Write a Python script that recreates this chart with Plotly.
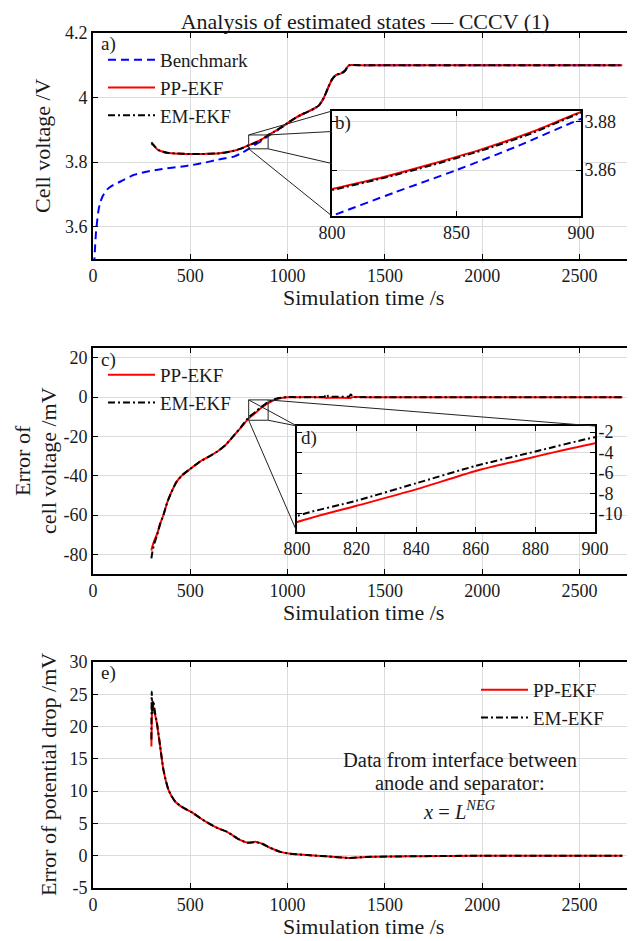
import plotly.graph_objects as go

# The page body keeps the browser's default 8 px margin, so the figure is drawn 8 px
# right/down of the window corner; the figure is sized and laid out to compensate.
OFF = 8
W, H = 635 - OFF, 941 - OFF

# ---------------- data ----------------
# a) cell voltage
t_bench = [0, 6, 10, 15, 20, 28, 36, 50, 70, 95, 122, 160, 208, 250, 294, 340, 380, 450, 509, 570,
           638, 680, 724, 760, 800, 825, 850, 875, 900, 950, 1000, 1067, 1100, 1136, 1160, 1185,
           1210, 1230, 1250, 1275, 1295, 1305, 1315, 1400, 2000, 2720]
v_bench = [3.40, 3.48, 3.53, 3.58, 3.61, 3.65, 3.673, 3.695, 3.714, 3.726, 3.734, 3.746, 3.760, 3.767,
           3.773, 3.777, 3.781, 3.786, 3.791, 3.798, 3.807, 3.812, 3.817, 3.827, 3.8413, 3.8508, 3.860,
           3.870, 3.881, 3.900, 3.921, 3.946, 3.955, 3.966, 3.975, 3.998, 4.033, 4.058, 4.070, 4.075,
           4.083, 4.093, 4.100, 4.100, 4.100, 4.100]

t_est = [300, 310, 320, 337, 360, 380, 420, 460, 509, 560, 600, 638, 680, 724, 760, 800, 820, 840, 860,
         880, 900, 930, 960, 1000, 1030, 1067, 1100, 1136, 1160, 1185, 1210, 1230, 1250, 1275, 1295,
         1305, 1315, 1400, 2000, 2720]
v_pp = [3.857, 3.852, 3.846, 3.837, 3.832, 3.829, 3.827, 3.826, 3.825, 3.825, 3.826, 3.827, 3.830, 3.835,
        3.842, 3.8522, 3.8570, 3.8625, 3.8685, 3.8755, 3.8838, 3.894, 3.905, 3.921, 3.933, 3.946, 3.955,
        3.966, 3.975, 3.998, 4.033, 4.058, 4.070, 4.075, 4.083, 4.093, 4.100, 4.100, 4.100, 4.100]
v_em = [3.861, 3.854, 3.847, 3.837, 3.832, 3.829, 3.827, 3.826, 3.825, 3.825, 3.826, 3.827, 3.830, 3.835,
        3.842, 3.8518, 3.8566, 3.8620, 3.8680, 3.8750, 3.8835, 3.894, 3.905, 3.921, 3.933, 3.946, 3.955,
        3.966, 3.975, 3.998, 4.033, 4.058, 4.070, 4.075, 4.083, 4.093, 4.100, 4.100, 4.100, 4.100]

# c) error of cell voltage (mV)
t_err = [300, 305, 315, 330, 345, 362, 380, 400, 430, 461, 500, 550, 600, 637, 680, 720, 760, 800, 820,
         840, 860, 880, 900, 925, 950, 975, 1000, 1050, 1150, 1190, 1200, 1210, 1260, 1315, 1325, 1335,
         1400, 2000, 2720]
e_pp = [-78, -76, -73, -69.5, -64.5, -60, -54, -49, -43, -39.5, -36.5, -32.8, -30, -27.8, -24.5, -20,
        -15.5, -10.8, -9.2, -7.6, -5.8, -4.4, -3.1, -1.7, -0.8, -0.3, -0.1, 0, 0, -0.2, -0.4, -0.3, -0.3,
        -0.4, -0.3, 0, 0, 0, 0]
e_em = [-82, -79, -74.5, -70, -64.5, -60, -54, -49, -43, -39.5, -36.5, -32.8, -30, -27.8, -24.5, -20,
        -15.3, -10.2, -8.7, -7.0, -5.3, -3.9, -2.5, -1.3, -0.6, -0.2, 0, 0, 0, 0.3, 1.5, 0.3, 0.2, 0.3,
        1.4, 0.2, 0, 0, 0]

# e) error of potential drop (mV)
t_pd = [300, 302, 305, 310, 318, 328, 345, 362, 388, 422, 465, 509, 552, 595, 638, 689, 741, 792, 835,
        869, 912, 963, 1015, 1100, 1200, 1312, 1400, 1600, 2000, 2720]
pd_pp = [16.9, 21, 24, 23, 22, 20.5, 16.9, 13.3, 10.2, 8.4, 7.4, 6.7, 5.8, 5.0, 4.3, 3.7, 2.7, 2.05,
         2.15, 1.85, 1.2, 0.6, 0.3, 0.1, -0.1, -0.35, -0.2, -0.1, 0, 0]
pd_em = [18, 25.4, 22, 24, 22.3, 20.7, 17, 13.3, 10.2, 8.4, 7.4, 6.7, 5.8, 5.0, 4.3, 3.7, 2.7, 2.0,
         2.1, 1.85, 1.2, 0.6, 0.3, 0.1, -0.1, -0.35, -0.2, -0.1, 0, 0]

# ticks
x_ticks = [0, 500, 1000, 1500, 2000, 2500]
x_ticktext = ["0", "500", "1000", "1500", "2000", "2500"]
a_yticks = [3.6, 3.8, 4.0, 4.2]
a_yticktext = ["3.6", "3.8", "4", "4.2"]
b_xticks = [800, 850, 900]
b_yticks = [3.86, 3.88]
b_yticktext = ["3.86", "3.88"]
c_yticks = [-80, -60, -40, -20, 0, 20]
c_yticktext = ["-80", "-60", "-40", "-20", "0", "20"]
d_xticks = [800, 820, 840, 860, 880, 900]
d_yticks = [-10, -8, -6, -4, -2]
d_yticktext = ["-10", "-8", "-6", "-4", "-2"]
e_yticks = [-5, 0, 5, 10, 15, 20, 25, 30]
e_yticktext = ["-5", "0", "5", "10", "15", "20", "25", "30"]

# ranges
X_RANGE = [0, 2780]
A_RANGE = [3.5, 4.2]
B_XRANGE = [800, 900]
B_YRANGE = [3.8412, 3.8842]
C_RANGE = [-90, 25]
D_XRANGE = [800, 900]
D_YRANGE = [-11.76, -1.41]
E_RANGE = [-5, 30]

# ---------------- layout geometry (window pixels -> paper) ----------------
def px(p):
    return (p - OFF) / W


def py(p):
    return 1 - (p - OFF) / H


XDOM = [px(93), px(634)]
A_DOM = [py(259), py(33)]
C_DOM = [py(574), py(348)]
E_DOM = [py(888), py(662)]
B_XDOM = [px(332), px(581)]
B_YDOM = [py(216), py(111)]
D_XDOM = [px(297), px(595)]
D_YDOM = [py(532), py(426)]

FONT = "Liberation Serif"
TXT = "#1a1a1a"
RED = "#ff0000"
BLUE = "#0000ff"
BLACK = "#000000"
GRID = "#dcdcdc"

fig = go.Figure()

LW = 2
SM = 0.6
bench_line = dict(color=BLUE, width=LW, dash="8px,5px", shape="spline", smoothing=SM)
pp_line = dict(color=RED, width=LW, shape="spline", smoothing=SM)
em_line = dict(color=BLACK, width=LW, dash="7px,3px,2px,3px", shape="spline", smoothing=SM)

# a) main
fig.add_trace(go.Scatter(x=t_bench, y=v_bench, mode="lines", line=bench_line, name="Benchmark",
                         xaxis="x", yaxis="y", legend="legend"))
fig.add_trace(go.Scatter(x=t_est, y=v_pp, mode="lines", line=pp_line, name="PP-EKF",
                         xaxis="x", yaxis="y", legend="legend"))
fig.add_trace(go.Scatter(x=t_est, y=v_em, mode="lines", line=em_line, name="EM-EKF",
                         xaxis="x", yaxis="y", legend="legend"))
# b) inset
fig.add_trace(go.Scatter(x=t_bench, y=v_bench, mode="lines", line=bench_line, showlegend=False,
                         xaxis="x2", yaxis="y2"))
fig.add_trace(go.Scatter(x=t_est, y=v_pp, mode="lines", line=pp_line, showlegend=False,
                         xaxis="x2", yaxis="y2"))
fig.add_trace(go.Scatter(x=t_est, y=v_em, mode="lines", line=em_line, showlegend=False,
                         xaxis="x2", yaxis="y2"))
# c) main
fig.add_trace(go.Scatter(x=t_err, y=e_pp, mode="lines", line=pp_line, name="PP-EKF",
                         xaxis="x3", yaxis="y3", legend="legend2"))
fig.add_trace(go.Scatter(x=t_err, y=e_em, mode="lines", line=em_line, name="EM-EKF",
                         xaxis="x3", yaxis="y3", legend="legend2"))
# d) inset
fig.add_trace(go.Scatter(x=t_err, y=e_pp, mode="lines", line=pp_line, showlegend=False,
                         xaxis="x4", yaxis="y4"))
fig.add_trace(go.Scatter(x=t_err, y=e_em, mode="lines", line=em_line, showlegend=False,
                         xaxis="x4", yaxis="y4"))
# e) main
fig.add_trace(go.Scatter(x=t_pd, y=pd_pp, mode="lines", line=pp_line, name="PP-EKF",
                         xaxis="x5", yaxis="y5", legend="legend3"))
fig.add_trace(go.Scatter(x=t_pd, y=pd_em, mode="lines", line=em_line, name="EM-EKF",
                         xaxis="x5", yaxis="y5", legend="legend3"))

tickfont = dict(family=FONT, size=18, color=TXT)


def ax(domain, rng, tickvals, ticktext=None, anchor=None, side=None, standoff=0):
    d = dict(domain=domain, range=rng, tickvals=tickvals, showline=True, linecolor=BLACK, linewidth=1.7,
             mirror="ticks", ticks="inside", ticklen=5, tickwidth=1, tickcolor=BLACK, showgrid=True,
             gridcolor=GRID, gridwidth=1, zeroline=False, tickfont=tickfont, automargin=False,
             anchor=anchor, ticklabelstandoff=standoff)
    if ticktext is not None:
        d["ticktext"] = ticktext
    if side is not None:
        d["side"] = side
    return d


fig.update_layout(
    width=W, height=H, margin=dict(l=0, r=0, t=0, b=0),
    paper_bgcolor="white", plot_bgcolor="white",
    xaxis=ax(XDOM, X_RANGE, x_ticks, x_ticktext, anchor="y"),
    yaxis=ax(A_DOM, A_RANGE, a_yticks, a_yticktext, anchor="x"),
    xaxis2=ax(B_XDOM, B_XRANGE, b_xticks, anchor="y2"),
    yaxis2=ax(B_YDOM, B_YRANGE, b_yticks, b_yticktext, anchor="x2", side="right", standoff=-2),
    xaxis3=ax(XDOM, X_RANGE, x_ticks, x_ticktext, anchor="y3"),
    yaxis3=ax(C_DOM, C_RANGE, c_yticks, c_yticktext, anchor="x3"),
    xaxis4=ax(D_XDOM, D_XRANGE, d_xticks, anchor="y4"),
    yaxis4=ax(D_YDOM, D_YRANGE, d_yticks, d_yticktext, anchor="x4", side="right", standoff=-2),
    xaxis5=ax(XDOM, X_RANGE, x_ticks, x_ticktext, anchor="y5"),
    yaxis5=ax(E_DOM, E_RANGE, e_yticks, e_yticktext, anchor="x5"),
    title=dict(text="Analysis of estimated states \u2014 CCCV (1)", x=px(365), y=py(21),
               xanchor="center", yanchor="middle", font=dict(family=FONT, size=22, color=TXT)),
    showlegend=True,
)

leg_common = dict(bgcolor="rgba(0,0,0,0)", borderwidth=0, font=dict(family=FONT, size=19, color=TXT),
                  xanchor="left", yanchor="top", tracegroupgap=0, itemwidth=47)
fig.update_layout(
    legend=dict(x=px(103), y=py(41), **leg_common),
    legend2=dict(x=px(103), y=py(356), **leg_common),
    legend3=dict(x=px(476), y=py(671), **leg_common),
)

# ---- shapes: inset backgrounds, zoom boxes, connectors ----
shapes = []
shapes.append(dict(type="rect", xref="x2", yref="y2", x0=B_XRANGE[0], x1=B_XRANGE[1], y0=B_YRANGE[0],
                   y1=B_YRANGE[1], fillcolor="white", line=dict(width=0), layer="below"))
shapes.append(dict(type="rect", xref="x4", yref="y4", x0=D_XRANGE[0], x1=D_XRANGE[1], y0=D_YRANGE[0],
                   y1=D_YRANGE[1], fillcolor="white", line=dict(width=0), layer="below"))
shapes.append(dict(type="rect", xref="x", yref="y", x0=B_XRANGE[0], x1=B_XRANGE[1], y0=B_YRANGE[0],
                   y1=B_YRANGE[1], line=dict(color="#222", width=1), layer="above"))
shapes.append(dict(type="rect", xref="x3", yref="y3", x0=D_XRANGE[0], x1=D_XRANGE[1], y0=D_YRANGE[0],
                   y1=D_YRANGE[1], line=dict(color="#222", width=1), layer="above"))


def to_paper(xv, yv, xdom, xr, ydom, yr):
    X = xdom[0] + (xv - xr[0]) / (xr[1] - xr[0]) * (xdom[1] - xdom[0])
    Y = ydom[0] + (yv - yr[0]) / (yr[1] - yr[0]) * (ydom[1] - ydom[0])
    return X, Y


def connector(p_main, p_inset, main_dom, main_rng, ix_dom, ix_rng, iy_dom, iy_rng):
    x0, y0 = to_paper(p_main[0], p_main[1], XDOM, X_RANGE, main_dom, main_rng)
    x1, y1 = to_paper(p_inset[0], p_inset[1], ix_dom, ix_rng, iy_dom, iy_rng)
    return dict(type="line", xref="paper", yref="paper", x0=x0, y0=y0, x1=x1, y1=y1,
                line=dict(color="#222", width=1), layer="above")


bx0, bx1 = B_XRANGE
by0, by1 = B_YRANGE
b_mid_hi = 3.8758
b_mid_lo = 3.8627
for pm, pi in [((bx0, by1), (bx0, by1)), ((bx1, by1), (bx0, b_mid_hi)),
               ((bx1, by0), (bx0, b_mid_lo)), ((bx0, by0), (bx0, by0))]:
    shapes.append(connector(pm, pi, A_DOM, A_RANGE, B_XDOM, B_XRANGE, B_YDOM, B_YRANGE))

dx0, dx1 = D_XRANGE
dy0, dy1 = D_YRANGE
for pm, pi in [((dx0, dy1), (dx0, dy1)), ((dx1, dy1), (dx1, dy1)),
               ((dx1, dy0), (dx0, dy1)), ((dx0, dy0), (dx0, dy0))]:
    shapes.append(connector(pm, pi, C_DOM, C_RANGE, D_XDOM, D_XRANGE, D_YDOM, D_YRANGE))

fig.update_layout(shapes=shapes)

# ---- annotations: axis titles, panel labels, note ----
ann_font = dict(family=FONT, size=19, color=TXT)
note_font = dict(family=FONT, size=20.5, color=TXT)
lab_font = dict(family=FONT, size=22, color=TXT)
anns = []


def note(text, x, y, font, xanchor="center", yanchor="middle", angle=0, align="center"):
    anns.append(dict(text=text, x=px(x), y=py(y), xref="paper", yref="paper", showarrow=False,
                     font=font, xanchor=xanchor, yanchor=yanchor, textangle=angle, align=align))


note("Simulation time /s", 363, 297, lab_font)
note("Simulation time /s", 363, 612, lab_font)
note("Simulation time /s", 363, 926, lab_font)
note("Cell voltage /V", 43, 146, lab_font, angle=-90)
note("Error of", 22, 461, lab_font, angle=-90)
note("cell voltage /mV", 48, 461, lab_font, angle=-90)
note("Error of potential drop /mV", 48, 775, lab_font, angle=-90)
note("a)", 99, 44, ann_font, xanchor="left")
note("b)", 333, 123, ann_font, xanchor="left")
note("c)", 99, 360, ann_font, xanchor="left")
note("d)", 299, 438, ann_font, xanchor="left")
note("e)", 99, 673, ann_font, xanchor="left")
note("Data from interface between", 460, 760, note_font)
note("anode and separator:", 460, 783, note_font)
note("<i>x</i> = <i>L</i><sup><i>NEG</i></sup>", 460, 810, note_font)

fig.update_layout(annotations=anns)

fig.write_html("out.html")
